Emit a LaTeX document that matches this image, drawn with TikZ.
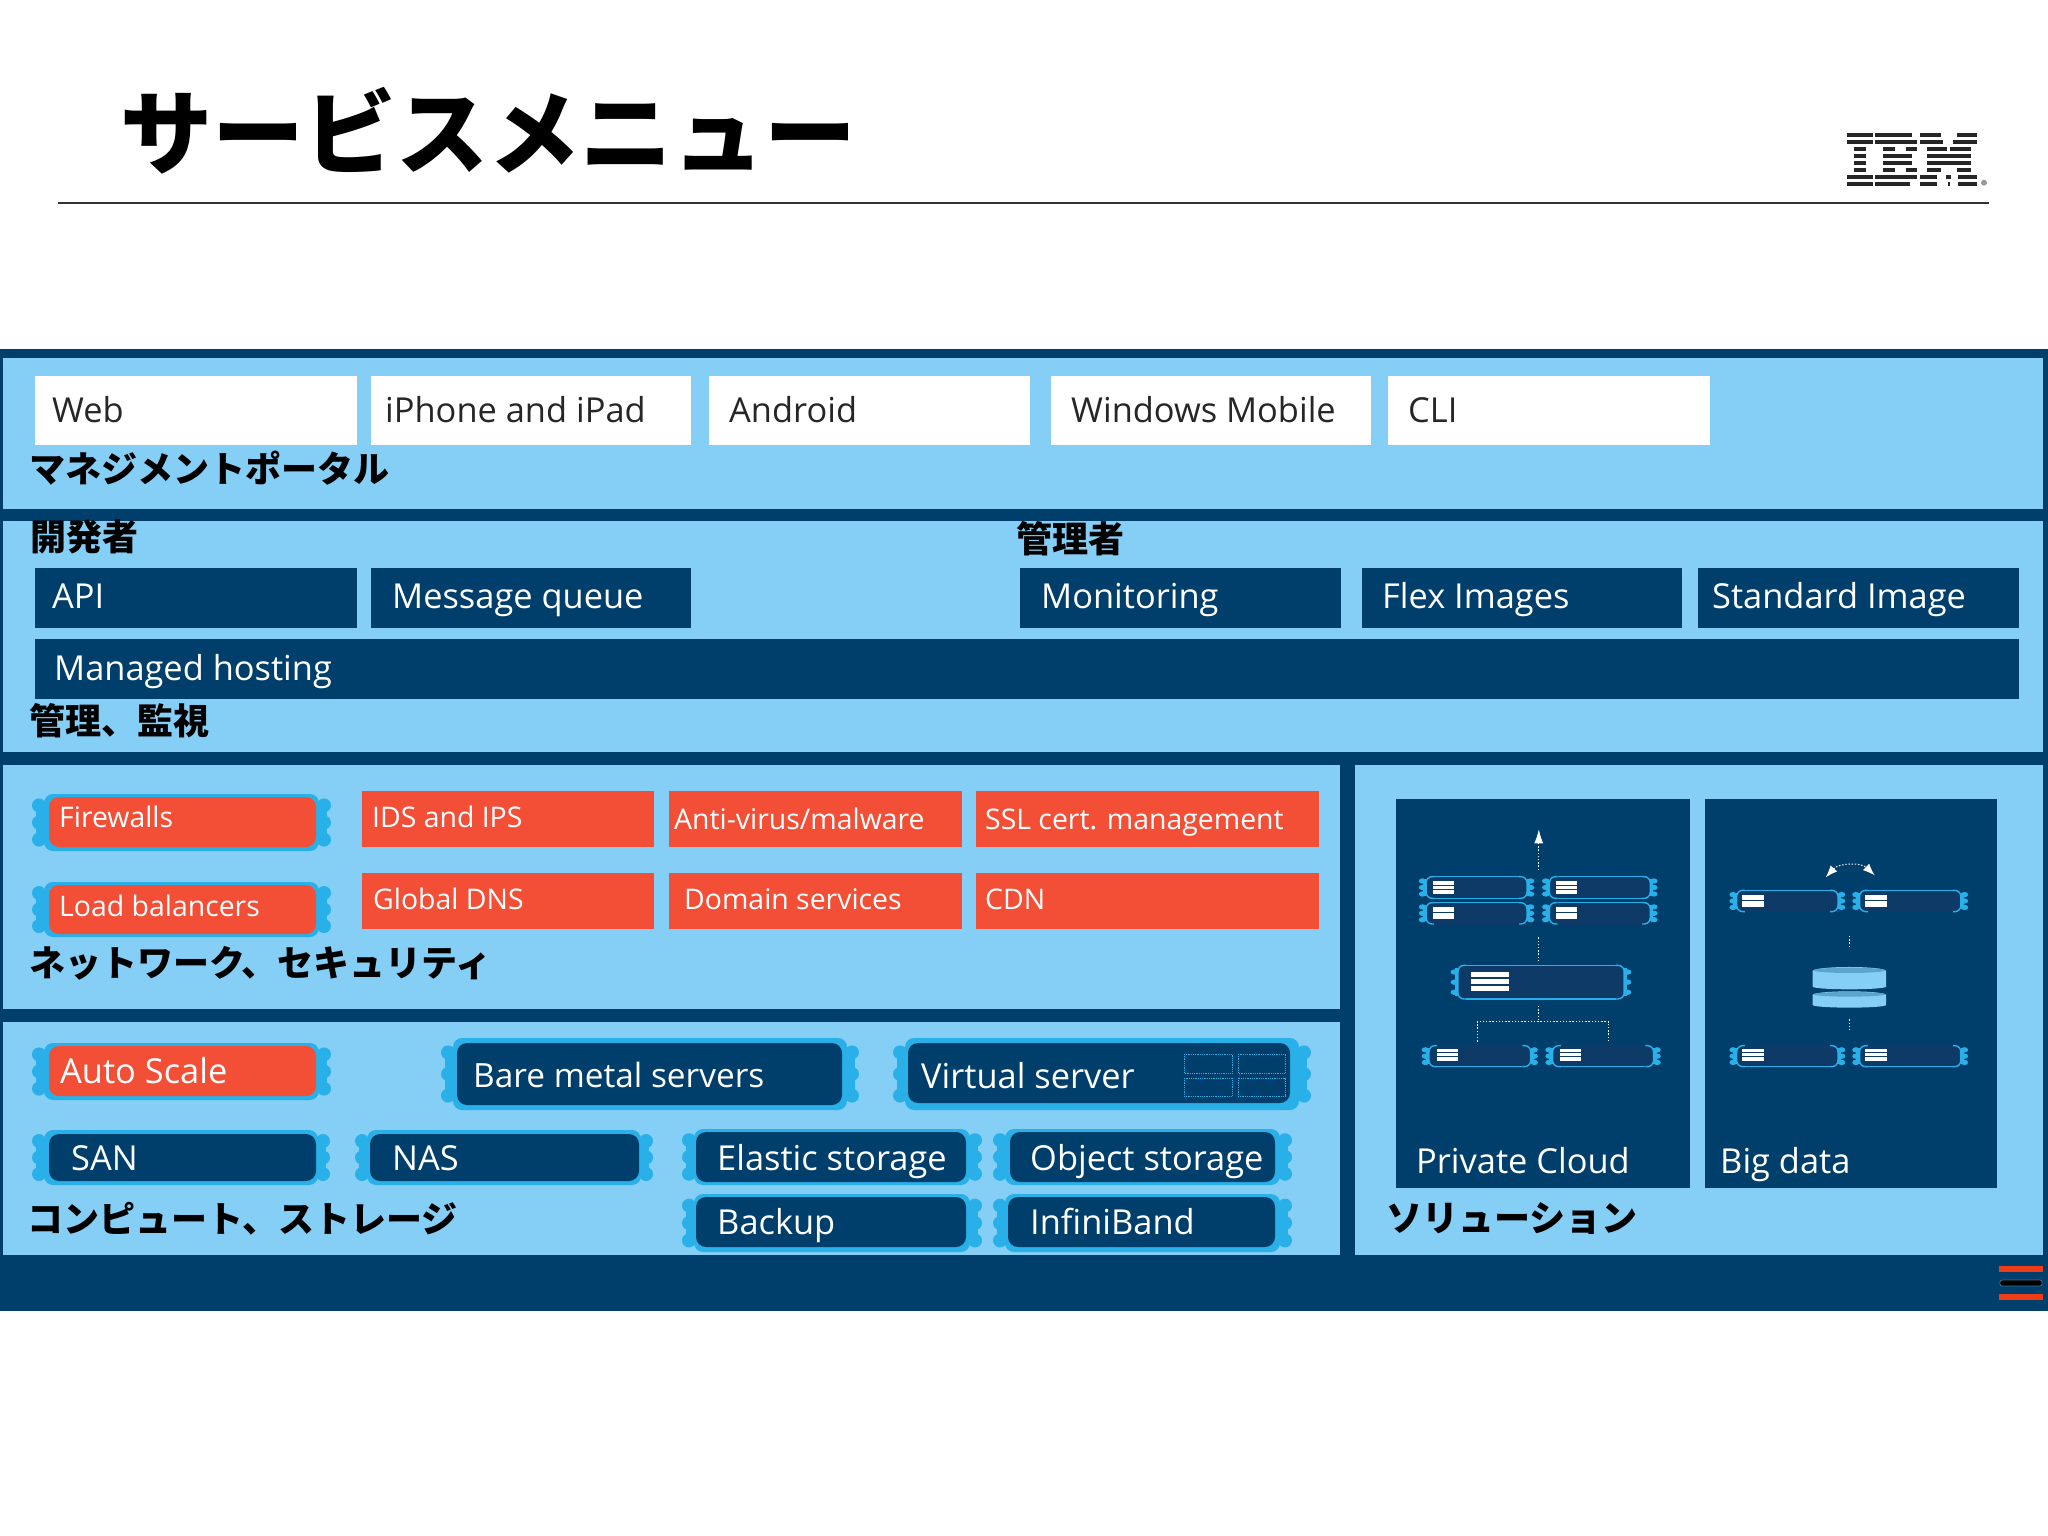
\documentclass[tikz,border=0pt]{standalone}
\usepackage{fontspec}
\setmainfont{Open Sans}
\newfontfamily\cjk{Noto Sans CJK JP}
\usetikzlibrary{arrows.meta}
\definecolor{navy}{HTML}{003F6B}
\definecolor{sky}{HTML}{85CFF7}
\definecolor{flame}{HTML}{F34F37}
\definecolor{rim}{HTML}{29B0E8}
\definecolor{slot}{HTML}{0E3A68}
\definecolor{redbar}{HTML}{F03C14}
\tikzset{
  txt/.style={anchor=base west,inner sep=0pt,font=\fontsize{34.4}{40}\selectfont},
  onwhite/.style={txt,text=black!85},
  ondark/.style={txt,text=white},
  small/.style={txt,text=white,font=\fontsize{28.4}{34}\selectfont},
  jp/.style={anchor=west,inner sep=0pt,text=black,font=\cjk\bfseries\fontsize{36}{40}\selectfont},
  dots/.style={white,line width=1pt,dash pattern=on 1.4pt off 1.8pt},
}
% outer x0 y0 x1 y1, inner x0 y0 x1 y1, colour
\newcommand{\chipshape}[9]{%
  \fill[rim,rounded corners=9pt] (#1+12,#2) rectangle (#3-12,#4);
  \fill[rim] (#1+4,#2+9) rectangle (#3-4,#4-9);
  \foreach \f in {0.2,0.5,0.8}{
    \fill[rim] (#1+7,{#2+(#4-#2)*\f}) circle (7);
    \fill[rim] (#3-7,{#2+(#4-#2)*\f}) circle (7);
  }
  \fill[#9,rounded corners=10pt] (#5,#6) rectangle (#7,#8);
}
% mini server (zoom units): x0 y0 x1 y1, top style, bottom style
\newcommand{\minichip}[6]{%
  \fill[rim] (#1+10,#2+8) rectangle (#1+20,#4-8);
  \fill[rim] (#3-20,#2+8) rectangle (#3-10,#4-8);
  \foreach \f in {0.2,0.5,0.8}{
    \fill[rim] (#1+9,{#2+(#4-#2)*\f}) ellipse[x radius=9,y radius=8];
    \fill[rim] (#3-9,{#2+(#4-#2)*\f}) ellipse[x radius=9,y radius=8];
  }
  \fill[slot] (#1+18,#2) rectangle (#3-18,#4);
  \draw[rim,line width=1.4pt,rounded corners=6pt] (#1+38,#2) -- (#1+18,#2) -- (#1+18,#4) -- (#1+38,#4);
  \draw[rim,line width=1.4pt,rounded corners=6pt] (#3-38,#2) -- (#3-18,#2) -- (#3-18,#4) -- (#3-38,#4);
  \draw[#5,line width=1.4pt] (#1+38,#2) -- (#3-38,#2);
  \draw[#6,line width=1.4pt] (#1+38,#4) -- (#3-38,#4);
}
\newcommand{\threebars}[4]{%
  \fill[white] (#1,#2) rectangle (#3,{#2+(#4-#2)*0.28});
  \fill[white] (#1,{#2+(#4-#2)*0.36}) rectangle (#3,{#2+(#4-#2)*0.64});
  \fill[white] (#1,{#2+(#4-#2)*0.72}) rectangle (#3,#4);
}
\newcommand{\twobars}[4]{%
  \fill[white] (#1,#2) rectangle (#3,{#2+(#4-#2)*0.4});
  \fill[white] (#1,{#2+(#4-#2)*0.5}) rectangle (#3,#4);
}
\begin{document}
\begin{tikzpicture}[x=1pt,y=-1pt]
\useasboundingbox (0,0) rectangle (2048,1536);
\fill[white] (0,0) rectangle (2048,1536);

% title
\node[anchor=west,inner sep=0pt,font=\cjk\bfseries\fontsize{92}{100}\selectfont] (title) at (120,131) {サービスメニュー};
\coordinate (ruleL) at (58,203);
\coordinate (ruleR) at (1989,203);
\draw[black!80,line width=1.5pt] (ruleL) -- (ruleR);

% IBM logo
\begin{scope}[shift={(1780,110)},x=0.3333pt,y=-0.3333pt]
  \foreach \yy/\segs in {
    75/{200/278,285/395,420/482,530/592},
    96/{200/278,285/410,420/490,520/592},
    117/{222/258,310/345,378/412,440/500,510/572},
    138/{222/258,310/395,440/572},
    159/{222/258,310/395,440/572},
    180/{222/258,310/345,378/412,440/482,530/572},
    201/{200/278,285/410,420/472,497/512,535/592},
    222/{200/278,285/390,420/472,503/510,535/592}}{
    \foreach \a/\b in \segs {
      \fill[black!85] (\a,\yy-5) rectangle (\b,\yy+5);
    }
  }
  \fill[black!40] (612,218) circle (9);
\end{scope}

% frame and panels
\fill[navy] (0,349) rectangle (2048,1311);
\fill[sky] (3,358) rectangle (2043,509);
\fill[sky] (3,521) rectangle (2043,752);
\fill[sky] (3,765) rectangle (1340,1009);
\fill[sky] (3,1022) rectangle (1340,1255);
\fill[sky] (1355,765) rectangle (2043,1255);

% white row
\fill[white] (35,376) rectangle (357,445);
\fill[white] (371,376) rectangle (691,445);
\fill[white] (709,376) rectangle (1030,445);
\fill[white] (1051,376) rectangle (1371,445);
\fill[white] (1388,376) rectangle (1710,445);
\node[onwhite] (web) at (52,422) {Web};
\node[onwhite] (iphone) at (385,422) {iPhone and iPad};
\node[onwhite] (android) at (729,422) {Android};
\node[onwhite] (winmob) at (1071,422) {Windows Mobile};
\node[onwhite] (cli) at (1408,422) {CLI};
\node[jp] (portal) at (29,468) {マネジメントポータル};

% admin rows
\node[jp] (dev) at (30,537) {開発者};
\node[jp] (adm) at (1016,539) {管理者};
\fill[navy] (35,568) rectangle (357,628);
\fill[navy] (371,568) rectangle (691,628);
\fill[navy] (1020,568) rectangle (1341,628);
\fill[navy] (1362,568) rectangle (1682,628);
\fill[navy] (1698,568) rectangle (2019,628);
\fill[navy] (35,639) rectangle (2019,699);
\node[ondark] (api) at (52,608) {API};
\node[ondark] (mq) at (392,608) {Message queue};
\node[ondark] (mon) at (1041,608) {Monitoring};
\node[ondark] (flex) at (1382,608) {Flex Images};
\node[ondark] (std) at (1712,608) {Standard Image};
\node[ondark] (mh) at (54,680) {Managed hosting};
\node[jp] (mgmt) at (29,721) {管理、監視};

% network
\chipshape{32}{794}{331}{851}{49}{797}{316}{847}{flame}
\chipshape{32}{882}{331}{937}{49}{885}{316}{934}{flame}
\fill[flame] (362,791) rectangle (654,847);
\fill[flame] (669,791) rectangle (962,847);
\fill[flame] (976,791) rectangle (1319,847);
\fill[flame] (362,873) rectangle (654,929);
\fill[flame] (669,873) rectangle (962,929);
\fill[flame] (976,873) rectangle (1319,929);
\node[small] (fw) at (59,827) {Firewalls};
\node[small] (lb) at (59,916) {Load balancers};
\node[small] (ids) at (372,827) {IDS and IPS};
\node[small] (av) at (674,829) {Anti-virus/malware};
\node[small] (ssl) at (985,829) {SSL cert. management};
\node[small] (dns) at (373,909) {Global DNS};
\node[small] (dom) at (684,909) {Domain services};
\node[small] (cdn) at (985,909) {CDN};
\node[jp] (net) at (29,963) {ネットワーク、セキュリティ};

% compute
\chipshape{32}{1043}{331}{1100}{49}{1046}{316}{1096}{flame}
\chipshape{441}{1038}{859}{1110}{457}{1043}{842}{1105}{navy}
\chipshape{893}{1038}{1311}{1110}{908}{1043}{1290}{1103}{navy}
\chipshape{32}{1130}{330}{1185}{49}{1134}{316}{1181}{navy}
\chipshape{355}{1130}{653}{1185}{370}{1134}{639}{1181}{navy}
\chipshape{682}{1129}{982}{1185}{696}{1132}{966}{1182}{navy}
\chipshape{993}{1129}{1292}{1185}{1010}{1132}{1275}{1182}{navy}
\chipshape{682}{1194}{982}{1252}{696}{1197}{966}{1247}{navy}
\chipshape{993}{1194}{1292}{1252}{1008}{1197}{1275}{1247}{navy}
\foreach \xa/\xb in {1184/1232,1238/1285}{
  \draw[rim,line width=0.8pt,densely dotted] (\xa,1054) rectangle (\xb,1073);
  \draw[rim,line width=0.8pt,densely dotted] (\xa,1078) rectangle (\xb,1096);
}
\node[ondark] (auto) at (60,1083) {Auto Scale};
\node[ondark,font=\fontsize{33.4}{40}\selectfont] (bare) at (473,1087) {Bare metal servers};
\node[ondark] (virt) at (921,1088) {Virtual server};
\node[ondark] (san) at (71,1170) {SAN};
\node[ondark] (nas) at (392,1170) {NAS};
\node[ondark] (elastic) at (717,1170) {Elastic storage};
\node[ondark] (object) at (1030,1170) {Object storage};
\node[ondark] (backup) at (717,1234) {Backup};
\node[ondark] (ib) at (1030,1234) {InfiniBand};
\node[jp] (comp) at (27,1219) {コンピュート、ストレージ};

% solutions
\fill[navy] (1396,799) rectangle (1690,1188);
\fill[navy] (1705,799) rectangle (1997,1188);
\node[ondark] (pc) at (1416,1173) {Private Cloud};
\node[ondark] (bd) at (1720,1173) {Big data};
\node[jp] (sol) at (1386,1219) {ソリューション};

\begin{scope}[shift={(1380,790)},x=0.40816pt,y=-0.3333pt]
  % private cloud
  \minichip{95}{260}{378}{325}{rim}{rim}
  \minichip{397}{260}{680}{325}{rim}{rim}
  \minichip{95}{338}{378}{402}{rim}{slot}
  \minichip{397}{338}{680}{402}{rim}{slot}
  \threebars{131}{273}{182}{311}
  \threebars{432}{273}{483}{311}
  \twobars{131}{351}{182}{388}
  \twobars{432}{351}{483}{388}
  \minichip{173}{526}{616}{627}{rim}{rim}
  \threebars{223}{546}{316}{603}
  \minichip{102}{767}{387}{830}{slot}{rim}
  \minichip{405}{767}{688}{830}{slot}{rim}
  \threebars{140}{777}{191}{812}
  \threebars{441}{777}{492}{812}
  \coordinate (a0) at (389,240);
  \coordinate (a1) at (389,118);
  \coordinate (b0) at (389,442);
  \coordinate (b1) at (389,510);
  \coordinate (c0) at (389,648);
  \coordinate (c1) at (389,695);
  \coordinate (d0) at (238,755);
  \coordinate (d1) at (560,750);
  \draw[dots,-{Latex[length=14pt,width=9pt]}] (a0) -- (a1);
  \draw[dots] (b0) -- (b1);
  \draw[dots] (c0) -- (c1);
  \draw[dots] (d0) |- (c1) -| (d1);
  % big data
  \minichip{856}{301}{1140}{365}{rim}{slot}
  \minichip{1157}{301}{1441}{365}{rim}{slot}
  \twobars{888}{315}{940}{352}
  \twobars{1189}{315}{1241}{352}
  \minichip{856}{767}{1140}{830}{slot}{rim}
  \minichip{1157}{767}{1441}{830}{slot}{rim}
  \threebars{888}{777}{940}{812}
  \threebars{1189}{777}{1241}{812}
  \coordinate (e0) at (1150,438);
  \coordinate (e1) at (1150,475);
  \coordinate (f0) at (1150,688);
  \coordinate (f1) at (1150,725);
  \coordinate (g0) at (1092,262);
  \coordinate (g1) at (1212,256);
  \draw[dots] (e0) -- (e1);
  \draw[dots] (f0) -- (f1);
  \draw[dots,{Latex[length=12pt,width=9pt]}-{Latex[length=12pt,width=9pt]}] (g0) .. controls (1125,218) and (1180,218) .. (g1);
  % disks
  \fill[sky] (1060,543) -- (1060,590) arc[start angle=180,end angle=0,x radius=90,y radius=8] -- (1240,543) arc[start angle=0,end angle=-180,x radius=90,y radius=12] -- cycle;
  \fill[sky!70!navy] (1150,541) ellipse[x radius=88,y radius=8];
  \fill[sky] (1060,615) -- (1060,645) arc[start angle=180,end angle=0,x radius=90,y radius=8] -- (1240,615) arc[start angle=0,end angle=-180,x radius=90,y radius=11] -- cycle;
  \fill[sky!70!navy] (1150,613) ellipse[x radius=88,y radius=7];
\end{scope}

% corner bars
\fill[redbar] (1999,1266) rectangle (2043,1272);
\fill[black] (2000,1280) rectangle (2042,1286);
\draw[black!30!navy!70!white,line width=0.8pt,rounded corners=2pt] (2000,1280) rectangle (2042,1286);
\fill[redbar] (1999,1294) rectangle (2043,1300);
\end{tikzpicture}
\end{document}
